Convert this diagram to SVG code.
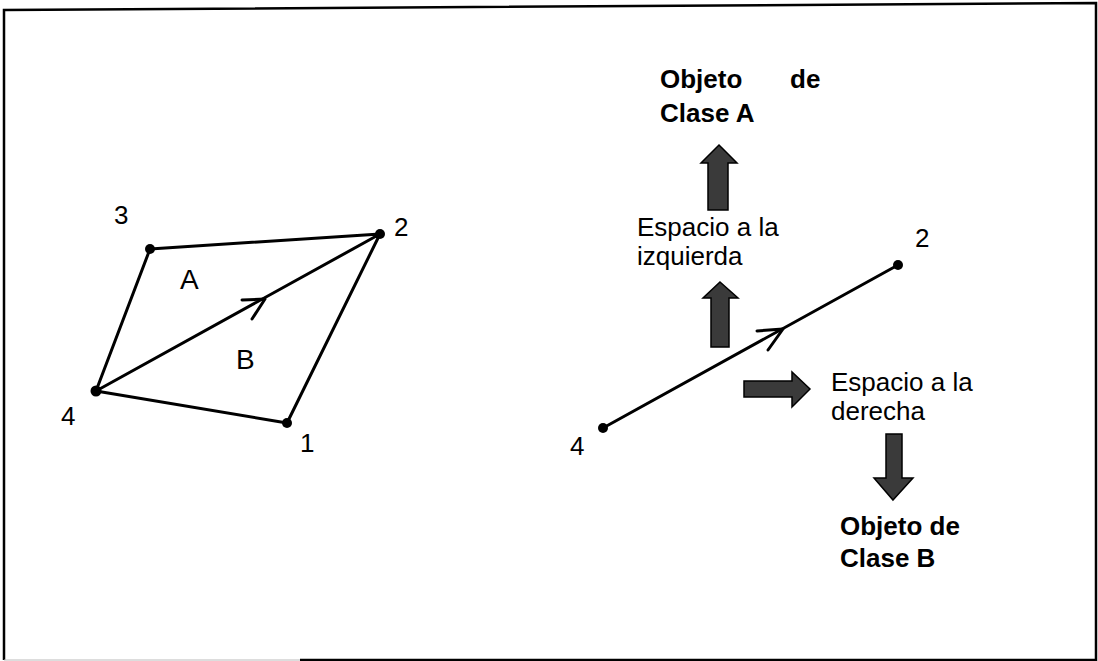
<svg xmlns="http://www.w3.org/2000/svg" width="1098" height="661" viewBox="0 0 1098 661">
<style>
.ln{stroke:#000;stroke-width:3;fill:none;stroke-linecap:round;stroke-linejoin:round}
.dot{fill:#000}
.lbl{font-family:"Liberation Sans",Arial,sans-serif;font-size:26px;fill:#000}
.big{font-family:"Liberation Sans",Arial,sans-serif;font-size:28px;fill:#000}
.txt{font-family:"Liberation Sans",Arial,sans-serif;font-size:26px;fill:#000}
.bold{font-family:"Liberation Sans",Arial,sans-serif;font-size:26px;font-weight:bold;fill:#000}
.blk{fill:#3a3a3a;stroke:#000;stroke-width:1.5;stroke-linejoin:miter}
</style>
<rect width="1098" height="661" fill="#fff"/>
<g id="frame">
<path d="M4,660 L4,10 L1096,3 L1096,660 L300,660" fill="none" stroke="#000" stroke-width="2.5"/>
<path d="M300,660 L4,660" fill="none" stroke="#bbb" stroke-width="1"/>
</g>
<g id="connectors">
<path class="ln" d="M150,249 L380,234 L287,423 L96,391 Z M96,391 L150,249 M96,391 L380,234"/>
<path class="ln" d="M242,300 L265,299 L252,319"/>
<path class="ln" d="M603,428 L898,265"/>
<path class="ln" d="M757,331 L783,329 L768,350"/>
</g>
<g id="node-left-3"><circle class="dot" cx="150" cy="249" r="5"/><text class="lbl" x="114" y="224">3</text></g>
<g id="node-left-2"><circle class="dot" cx="380" cy="234" r="5"/><text class="lbl" x="394" y="236">2</text></g>
<g id="node-left-4"><circle class="dot" cx="96" cy="391" r="5.5"/><text class="lbl" x="61" y="425">4</text></g>
<g id="node-left-1"><circle class="dot" cx="287" cy="423" r="5"/><text class="lbl" x="300" y="452">1</text></g>
<g id="region-A"><text class="big" x="180" y="289">A</text></g>
<g id="region-B"><text class="big" x="236" y="369">B</text></g>
<g id="node-right-4"><circle class="dot" cx="603" cy="428" r="5"/><text class="lbl" x="570" y="455">4</text></g>
<g id="node-right-2"><circle class="dot" cx="898" cy="265" r="5"/><text class="lbl" x="915" y="247">2</text></g>
<g id="label-clase-a"><text class="bold" x="660" y="88">Objeto</text><text class="bold" x="790" y="88">de</text><text class="bold" x="660" y="122">Clase A</text></g>
<g id="label-izquierda"><text class="txt" x="637" y="236">Espacio a la</text><text class="txt" x="637" y="265">izquierda</text></g>
<g id="label-derecha"><text class="txt" x="831" y="391">Espacio a la</text><text class="txt" x="831" y="420">derecha</text></g>
<g id="label-clase-b"><text class="bold" x="840" y="535">Objeto de</text><text class="bold" x="840" y="567">Clase B</text></g>
<g id="arrow-up-top"><path class="blk" d="M719,145 L737,163 L728,163 L728,210 L708,210 L708,163 L701,163 Z"/></g>
<g id="arrow-up-bottom"><path class="blk" d="M720,282 L738,298 L729,298 L729,347 L711,347 L711,298 L703,298 Z"/></g>
<g id="arrow-right"><path class="blk" d="M810,389 L792,407 L792,397 L744,397 L744,381 L792,381 L792,372 Z"/></g>
<g id="arrow-down"><path class="blk" d="M893,500 L913,478 L902,478 L902,434 L886,434 L886,478 L874,478 Z"/></g>
</svg>
